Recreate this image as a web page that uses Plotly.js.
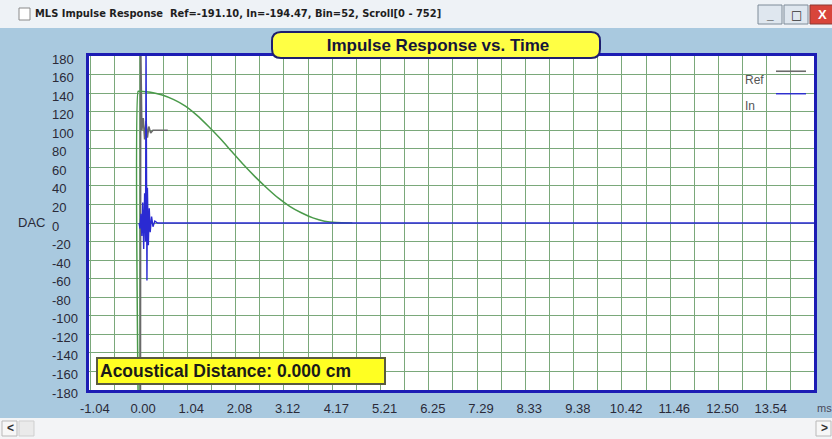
<!DOCTYPE html>
<html>
<head>
<meta charset="utf-8">
<script src="https://cdn.plot.ly/plotly-3.0.1.min.js"></script>
<style>html,body{margin:0;padding:0;background:#a9c9df;}#chart{width:832px;height:439px;}</style>
</head>
<body>
<div id="chart"></div>
<script>
// ---- data ----
const xTickVals   = [-1.04, 0.00, 1.04, 2.08, 3.12, 4.17, 5.21, 6.25, 7.29, 8.33, 9.38, 10.42, 11.46, 12.50, 13.54];
const xTickLabels = ["-1.04","0.00","1.04","2.08","3.12","4.17","5.21","6.25","7.29","8.33","9.38","10.42","11.46","12.50","13.54"];
const yTickVals   = [180,160,140,120,100,80,60,40,20,0,-20,-40,-60,-80,-100,-120,-140,-160,-180];
const yTickLabels = ["180","160","140","120","100","80","60","40","20","0","-20","-40","-60","-80","-100","-120","-140","-160","-180"];

// window curve (green)
const windowMs  = [-0.02, -0.02, 0.00, 0.25, 0.50, 0.75, 1.00, 1.25, 1.50, 1.75, 2.00, 2.25, 2.50, 2.75, 3.00, 3.25, 3.50, 3.75, 4.00, 4.25, 4.60];
const windowVal = [-190, 142, 142, 141, 138, 133, 126, 116, 104, 91, 77, 63, 50, 38, 27, 18, 11, 5.5, 2, 0.5, 0];

// Ref trace (grey)
const refMs  = [0.03, 0.035, 0.06, 0.09, 0.12, 0.15, 0.18, 0.21, 0.25, 0.30, 0.62];
const refVal = [-195, 195, 100, 113, 90, 110, 92, 104, 97, 100, 100];

// In trace (blue)
const inMs  = [0.00, 0.02, 0.04, 0.06, 0.08, 0.10, 0.12, 0.14, 0.15, 0.155, 0.16, 0.165, 0.17, 0.18, 0.20, 0.22, 0.24, 0.27, 0.30, 0.34, 0.40, 0.60, 14.60];
const inVal = [0, -6, 10, -14, 22, -28, 32, -20, 195, 60, 195, 40, -62, 38, -24, 16, -10, 7, -4, 2, 0, 0, 0];

const minorStepMs = 1.041667 / 2;

// ---- helpers: pixel -> paper (margins are 0, so paper == figure) ----
const W = 832, H = 439;
const px = x => x / W;
const py = y => 1 - y / H;
function roundRectPath(x0, y0, x1, y1, r) {
  const X = px, Y = py;
  return `M${X(x0+r)},${Y(y0)} L${X(x1-r)},${Y(y0)} Q${X(x1)},${Y(y0)} ${X(x1)},${Y(y0+r)} ` +
         `L${X(x1)},${Y(y1-r)} Q${X(x1)},${Y(y1)} ${X(x1-r)},${Y(y1)} L${X(x0+r)},${Y(y1)} ` +
         `Q${X(x0)},${Y(y1)} ${X(x0)},${Y(y1-r)} L${X(x0)},${Y(y0+r)} Q${X(x0)},${Y(y0)} ${X(x0+r)},${Y(y0)} Z`;
}

const gridColor = '#7aa87a';
const frameColor = '#1c1cb4';
const labelFont = {family: 'Liberation Sans, Arial, sans-serif', size: 13, color: '#2a2a38'};

const traces = [
  {x: refMs, y: refVal, type: 'scatter', mode: 'lines', name: ' ', showlegend: true, legendgroup: 'ref',
   line: {color: '#6a6a6a', width: 1.6}, hoverinfo: 'skip'},
  {x: windowMs, y: windowVal, type: 'scatter', mode: 'lines', name: 'Window',
   line: {color: '#4a9a4a', width: 1.5, shape: 'spline', smoothing: 0.6}, showlegend: false, hoverinfo: 'skip'},
  {x: inMs, y: inVal, type: 'scatter', mode: 'lines', name: '  ', showlegend: true, legendgroup: 'in', yaxis: 'y2',
   line: {color: '#2a2ad2', width: 1.4}, hoverinfo: 'skip'}
];

const layout = {
  width: W, height: H,
  margin: {l: 0, r: 0, t: 0, b: 0, pad: 0},
  paper_bgcolor: '#a9c9df',
  plot_bgcolor: '#ffffff',
  title: {text: 'Impulse Response vs. Time', xref: 'container', yref: 'container',
          x: px(438), xanchor: 'center', y: py(45), yanchor: 'middle',
          font: {family: 'Liberation Sans, Arial, sans-serif', size: 17, color: '#15153a', weight: 'bold'}},
  xaxis: {
    domain: [px(89), px(814)], range: [-1.08, 14.56],
    tickmode: 'array', tickvals: xTickVals, ticktext: xTickLabels,
    showgrid: false, zeroline: false, ticks: '',
    minor: {tick0: 0, dtick: minorStepMs, showgrid: true, gridcolor: gridColor, gridwidth: 1, ticks: ''},
    showline: true, mirror: true, linecolor: frameColor, linewidth: 3,
    tickfont: labelFont, ticklabelshift: 4, ticklabelstandoff: 4
  },
  yaxis: {
    domain: [py(390), py(56)], range: [-180, 180],
    tickmode: 'linear', tick0: 0, dtick: 20,
    showticklabels: false, showgrid: true, gridcolor: gridColor, gridwidth: 1,
    zeroline: false, ticks: '',
    showline: true, mirror: true, linecolor: frameColor, linewidth: 3
  },
  yaxis2: {
    overlaying: 'y', anchor: 'free', side: 'right', position: px(51),
    range: [-180, 180], tickmode: 'array', tickvals: yTickVals, ticktext: yTickLabels,
    showgrid: false, zeroline: false, showline: false, ticks: '',
    tickfont: labelFont, ticklabelshift: 3
  },
  showlegend: true,
  legend: {x: px(771), xanchor: 'left', y: py(55), yanchor: 'top',
           bgcolor: 'rgba(0,0,0,0)', borderwidth: 0, font: {size: 15},
           tracegroupgap: 6, itemwidth: 30, traceorder: 'normal'},
  shapes: [
    // window title bar
    {type: 'rect', xref: 'paper', yref: 'paper', x0: 0, x1: 1, y0: py(28), y1: 1,
     fillcolor: '#eef2f6', line: {width: 0}, layer: 'below'},
    {type: 'rect', xref: 'paper', yref: 'paper', x0: px(19), x1: px(30), y0: py(20), y1: py(8),
     fillcolor: '#ffffff', line: {color: '#8a8a8a', width: 1}, layer: 'above'},
    // window buttons
    {type: 'rect', xref: 'paper', yref: 'paper', x0: px(758), x1: px(782), y0: py(24), y1: py(5),
     fillcolor: '#dfe7ef', line: {color: '#7f8c99', width: 1}, layer: 'above'},
    {type: 'rect', xref: 'paper', yref: 'paper', x0: px(784), x1: px(808), y0: py(24), y1: py(5),
     fillcolor: '#dfe7ef', line: {color: '#7f8c99', width: 1}, layer: 'above'},
    {type: 'rect', xref: 'paper', yref: 'paper', x0: px(810), x1: px(834), y0: py(24), y1: py(5),
     fillcolor: '#d8453a', line: {color: '#8a3a33', width: 1}, layer: 'above'},
    // bottom scroll bar
    {type: 'rect', xref: 'paper', yref: 'paper', x0: 0, x1: 1, y0: 0, y1: py(418),
     fillcolor: '#f3f4f6', line: {width: 0}, layer: 'below'},
    {type: 'rect', xref: 'paper', yref: 'paper', x0: px(2), x1: px(17), y0: py(436), y1: py(421),
     fillcolor: '#f7f7f7', line: {color: '#b9b9b9', width: 1}, layer: 'above'},
    {type: 'rect', xref: 'paper', yref: 'paper', x0: px(19), x1: px(34), y0: py(436), y1: py(421),
     fillcolor: '#eaeaea', line: {color: '#cfcfcf', width: 1}, layer: 'above'},
    {type: 'rect', xref: 'paper', yref: 'paper', x0: px(816), x1: px(831), y0: py(436), y1: py(421),
     fillcolor: '#f7f7f7', line: {color: '#b9b9b9', width: 1}, layer: 'above'},
    // title rounded box
    {type: 'path', xref: 'paper', yref: 'paper', path: roundRectPath(272, 32, 600, 58, 9),
     fillcolor: '#ffff44', line: {color: '#1e1e6e', width: 2}, layer: 'above'}
  ],
  annotations: [
    {xref: 'paper', yref: 'paper', x: px(33), y: py(14), xanchor: 'left', yanchor: 'middle', showarrow: false,
     text: 'MLS Impulse Response  Ref=-191.10, In=-194.47, Bin=52, Scroll[0 - 752]',
     font: {family: 'DejaVu Sans Condensed, sans-serif', size: 11, color: '#1e1e1e', weight: 'bold'}},
    {xref: 'paper', yref: 'paper', x: px(770), y: py(15), xanchor: 'center', yanchor: 'middle', showarrow: false,
     text: '<b>_</b>', font: {family: 'Liberation Sans, Arial', size: 12, color: '#333'}},
    {xref: 'paper', yref: 'paper', x: px(796), y: py(15), xanchor: 'center', yanchor: 'middle', showarrow: false,
     text: '□', font: {family: 'DejaVu Sans, sans-serif', size: 12, color: '#333'}},
    {xref: 'paper', yref: 'paper', x: px(822), y: py(15), xanchor: 'center', yanchor: 'middle', showarrow: false,
     text: '<b>X</b>', font: {family: 'Liberation Sans, Arial', size: 13, color: '#ffffff'}},
    {xref: 'paper', yref: 'paper', x: px(16), y: py(222), xanchor: 'left', yanchor: 'middle', showarrow: false,
     text: 'DAC', font: labelFont},
    {xref: 'paper', yref: 'paper', x: px(815), y: py(408), xanchor: 'left', yanchor: 'middle', showarrow: false,
     text: 'ms', font: {family: 'Liberation Sans, Arial', size: 11, color: '#4a4a5a'}},
    {xref: 'paper', yref: 'paper', x: px(743), y: py(80), xanchor: 'left', yanchor: 'middle', showarrow: false,
     text: 'Ref', font: {family: 'Liberation Sans, Arial', size: 12, color: '#555555'}},
    {xref: 'paper', yref: 'paper', x: px(743), y: py(106), xanchor: 'left', yanchor: 'middle', showarrow: false,
     text: 'In', font: {family: 'Liberation Sans, Arial', size: 12, color: '#555555'}},
    {xref: 'paper', yref: 'paper', x: px(96), y: py(357), xanchor: 'left', yanchor: 'top', showarrow: false,
     text: '<b>Acoustical Distance: 0.000 cm</b>', align: 'left', width: 282, height: 20,
     bgcolor: '#ffff22', bordercolor: '#5a5a40', borderwidth: 2, borderpad: 2,
     font: {family: 'Liberation Sans, Arial, sans-serif', size: 17.5, color: '#1a1a1a'}},
    {xref: 'paper', yref: 'paper', x: px(10), y: py(428), xanchor: 'center', yanchor: 'middle', showarrow: false,
     text: '<b>&lt;</b>', font: {family: 'Liberation Sans, Arial', size: 12, color: '#333'}},
    {xref: 'paper', yref: 'paper', x: px(824), y: py(428), xanchor: 'center', yanchor: 'middle', showarrow: false,
     text: '<b>&gt;</b>', font: {family: 'Liberation Sans, Arial', size: 12, color: '#333'}}
  ]
};

Plotly.newPlot('chart', traces, layout, {staticPlot: true, displayModeBar: false});
</script>
</body>
</html>
